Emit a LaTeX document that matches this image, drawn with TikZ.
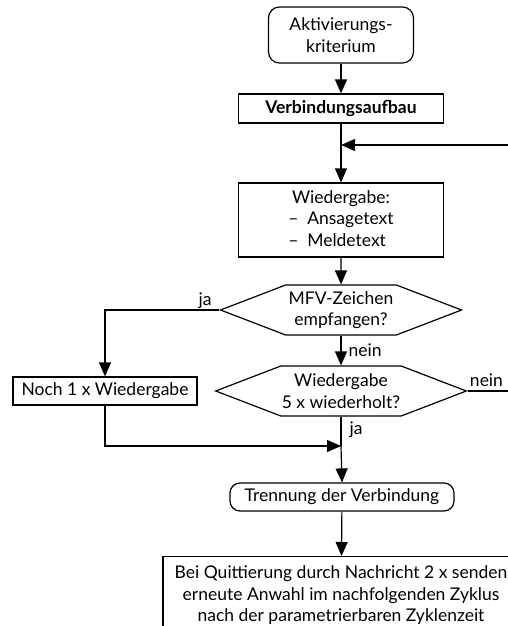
\documentclass[tikz,border=0pt]{standalone}
\usepackage{fontspec}
\setmainfont{Lato}
\usetikzlibrary{arrows.meta}
\usetikzlibrary{shapes.symbols}
\begin{document}
\begin{tikzpicture}[x=1pt,y=-1pt,line width=1.2pt,
  font=\fontsize{17.5}{21.5}\selectfont,
  box/.style={draw, inner sep=2pt, align=center},
  roundbox/.style={box, rounded corners=11pt},
  hexbox/.style={draw, signal, signal to=east and west, signal pointer angle=42,
    minimum width=241pt, minimum height=50pt, inner sep=1pt, align=center},
  arr/.style={-{Triangle[length=14pt,width=12pt]}},
  lab/.style={inner sep=1pt}]
\clip (0,0) rectangle (508,626);
\node[roundbox, minimum width=145pt, minimum height=56pt] (akt) at (341,35) {Aktivierungs-\\kriterium};
\node[box, minimum width=205pt, minimum height=29pt, font=\fontsize{17.5}{21.5}\selectfont\bfseries] (aufbau) at (341,108.5) {Verbindungsaufbau};
\node[box, minimum width=205pt, minimum height=74pt] (wied) at (341,220)
  {Wiedergabe:\\ –\enspace Ansagetext\\ \rlap{–\enspace Meldetext}\phantom{–\enspace Ansagetext}};
\node[hexbox] (mfv) at (341,310) {MFV-Zeichen\\empfangen?};
\node[hexbox] (fuenf) at (341,391) {Wiedergabe\\5 x wiederholt?};
\node[box, minimum width=184pt, minimum height=28pt] (noch) at (105,391) {Noch 1 x Wiedergabe};
\node[roundbox, rounded corners=10pt, minimum width=224pt, minimum height=28pt] (trenn) at (342,497) {Trennung der Verbindung};
\node[box, anchor=north, minimum width=356pt, minimum height=110pt, inner sep=3pt] (quitt) at (341,556)
  {\rule{0pt}{19pt}Bei Quittierung durch Nachricht 2 x senden\\ erneute Anwahl im nachfolgenden Zyklus\\ nach der parametrierbaren Zyklenzeit\\[30pt]};
\coordinate (rueck) at (512,145);
\coordinate (raus) at (512,391);
\coordinate (merge) at (341,446);
\draw[arr] (akt) -- (aufbau);
\draw[arr] (aufbau) -- (wied);
\draw[arr] (rueck) -- (rueck -| aufbau.south);
\draw[arr] (wied) -- (mfv);
\draw[arr] (mfv.west) -- (mfv.west -| noch.north) node[lab, pos=0.12, above] {ja} -- (noch.north);
\draw[arr] (mfv.south) -- (fuenf.north) node[lab, midway, right, xshift=6pt] {nein};
\draw (fuenf.east) -- (raus) node[lab, pos=0.42, above, yshift=3pt] {nein};
\draw (fuenf.south) -- (merge) node[lab, pos=0.45, right, xshift=7pt] {ja};
\draw[arr] (noch.south) |- (merge);
\draw[arr] (merge) -- (trenn.north);
\draw[arr] (trenn) -- (quitt);
\end{tikzpicture}
\end{document}
